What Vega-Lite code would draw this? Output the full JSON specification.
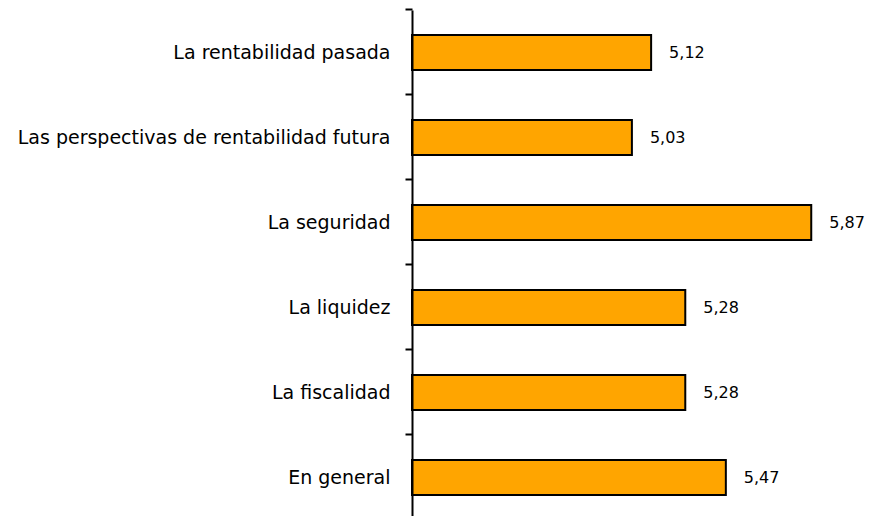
{
  "$schema": "https://vega.github.io/schema/vega-lite/v6.json",
  "autosize": "none",
  "width": 427,
  "height": 510,
  "padding": {"left": 412, "top": 10, "right": 30, "bottom": 0},
  "background": "white",
  "config": {
    "view": {"stroke": null},
    "locale": {"number": {"decimal": ",", "thousands": ".", "grouping": [3], "currency": ["", " €"]}},
    "font": "DejaVu Sans"
  },
  "data": {
    "values": [
      {"factor": "La rentabilidad pasada", "valor": 5.12},
      {"factor": "Las perspectivas de rentabilidad futura", "valor": 5.03},
      {"factor": "La seguridad", "valor": 5.87},
      {"factor": "La liquidez", "valor": 5.28},
      {"factor": "La fiscalidad", "valor": 5.28},
      {"factor": "En general", "valor": 5.47}
    ]
  },
  "encoding": {
    "y": {
      "field": "factor", "type": "nominal", "sort": null,
      "scale": {"paddingInner": 0.588, "paddingOuter": 0.294},
      "axis": {
        "title": null, "bandPosition": -0.714, "domainColor": "black", "domainWidth": 2,
        "tickColor": "black", "tickWidth": 2, "tickSize": 7, "labelPadding": 15,
        "labelFontSize": 19, "labelColor": "black", "labelFont": "DejaVu Sans", "labelLimit": 500, "zindex": 1
      }
    },
    "x": {
      "field": "valor", "type": "quantitative",
      "scale": {"domain": [4, 6], "zero": false},
      "axis": null
    }
  },
  "layer": [
    {
      "mark": {"type": "bar", "color": "#FFA500", "stroke": "black", "strokeWidth": 2},
      "encoding": {"x2": {"datum": 4}}
    },
    {
      "mark": {"type": "text", "align": "left", "baseline": "middle", "dx": 18, "fontSize": 16, "color": "black"},
      "encoding": {"text": {"field": "valor", "type": "quantitative", "format": ".2f"}}
    }
  ]
}
